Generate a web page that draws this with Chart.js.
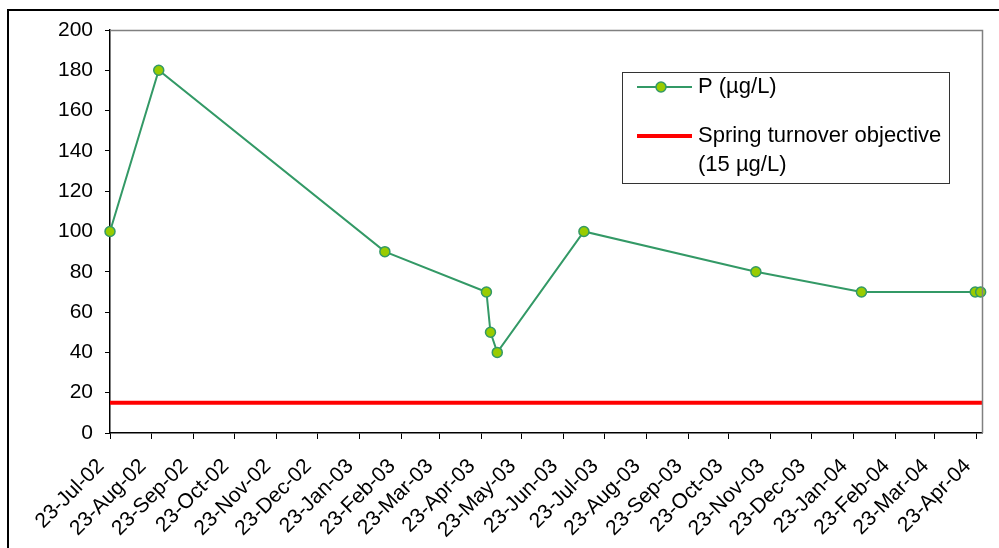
<!DOCTYPE html>
<html>
<head>
<meta charset="utf-8">
<script src="https://cdn.jsdelivr.net/npm/chart.js@4.4.0/dist/chart.umd.min.js"></script>
<style>
  html, body { margin: 0; padding: 0; background: #fff; }
  #wrap { width: 999px; height: 548px; position: relative; }
</style>
</head>
<body>
<div id="wrap"><canvas id="pChart" width="999" height="548"></canvas></div>
<script>
// Sampling dates and total phosphorus (µg/L)
const sampleDates = ['23-Jul-02', '28-Aug-02', '11-Feb-03', '27-Apr-03', '30-Apr-03', '05-May-03',
                     '08-Jul-03', '12-Nov-03', '29-Jan-04', '22-Apr-04', '26-Apr-04'];
const pValues = [100, 180, 90, 70, 50, 40, 100, 80, 70, 70, 70];

// Spring turnover objective
const objectiveValue = 15;

// Axis ticks
const tickLabels = ['23-Jul-02', '23-Aug-02', '23-Sep-02', '23-Oct-02', '23-Nov-02', '23-Dec-02',
                    '23-Jan-03', '23-Feb-03', '23-Mar-03', '23-Apr-03', '23-May-03', '23-Jun-03',
                    '23-Jul-03', '23-Aug-03', '23-Sep-03', '23-Oct-03', '23-Nov-03', '23-Dec-03',
                    '23-Jan-04', '23-Feb-04', '23-Mar-04', '23-Apr-04'];
const axisStart = '23-Jul-02';
const axisEnd = '27-Apr-04';
const yTicks = [0, 20, 40, 60, 80, 100, 120, 140, 160, 180, 200];

const MONTHS = ['Jan', 'Feb', 'Mar', 'Apr', 'May', 'Jun', 'Jul', 'Aug', 'Sep', 'Oct', 'Nov', 'Dec'];

// '23-Jul-02' -> day number
function toDay(s) {
    const [d, m, y] = s.split('-');
    return Date.UTC(2000 + Number(y), MONTHS.indexOf(m), Number(d)) / 86400000;
}

const FONT = "'Liberation Sans', Arial, sans-serif";
const lineGreen = '#339966';
const markerFill = '#99CC00';

const xMin = toDay(axisStart);
const xMax = toDay(axisEnd);
const tickDays = tickLabels.map(toDay);
const labelByDay = {};
tickLabels.forEach((t, i) => { labelByDay[tickDays[i]] = t; });

// Legend box, outer frame and plot frame
const framePlugin = {
    id: 'frame',
    beforeDraw(chart) {
        const ctx = chart.ctx;
        ctx.save();
        ctx.strokeStyle = '#000';
        ctx.lineWidth = 2;
        ctx.beginPath();
        ctx.moveTo(8, 560);
        ctx.lineTo(8, 10);
        ctx.lineTo(1010, 10);
        ctx.stroke();
        ctx.restore();
    },
    afterDraw(chart) {
        const ctx = chart.ctx;
        const a = chart.chartArea;
        ctx.save();
        // plot area top/right
        ctx.strokeStyle = '#808080';
        ctx.lineWidth = 1.5;
        ctx.beginPath();
        ctx.moveTo(a.left, a.top + 0.5);
        ctx.lineTo(a.right + 0.5, a.top + 0.5);
        ctx.lineTo(a.right + 0.5, a.bottom);
        ctx.stroke();

        // legend
        const bx = 622, by = 72, bw = 327, bh = 111;
        ctx.strokeStyle = '#333';
        ctx.lineWidth = 1;
        ctx.strokeRect(bx + 0.5, by + 0.5, bw, bh);

        const ds = chart.data.datasets;
        ctx.font = '22px ' + FONT;
        ctx.fillStyle = '#000';
        ctx.textBaseline = 'middle';

        // entry 1
        ctx.strokeStyle = ds[0].borderColor;
        ctx.lineWidth = 2;
        ctx.beginPath();
        ctx.moveTo(637, 87);
        ctx.lineTo(692, 87);
        ctx.stroke();
        ctx.beginPath();
        ctx.arc(661, 87, 5, 0, Math.PI * 2);
        ctx.fillStyle = ds[0].pointBackgroundColor;
        ctx.fill();
        ctx.lineWidth = 1.5;
        ctx.stroke();
        ctx.fillStyle = '#000';
        ctx.fillText(ds[0].label, 698, 87);

        // entry 2
        ctx.strokeStyle = ds[1].borderColor;
        ctx.lineWidth = 4;
        ctx.beginPath();
        ctx.moveTo(637, 136);
        ctx.lineTo(692, 136);
        ctx.stroke();
        const lines = ds[1].label.split('\n');
        lines.forEach((l, i) => ctx.fillText(l, 698, 136 + i * 29));
        ctx.restore();
    }
};

new Chart(document.getElementById('pChart'), {
    type: 'line',
    data: {
        datasets: [{
            label: 'P (µg/L)',
            data: sampleDates.map((d, i) => ({ x: toDay(d), y: pValues[i] })),
            borderColor: lineGreen,
            borderWidth: 2,
            pointBackgroundColor: markerFill,
            pointBorderColor: lineGreen,
            pointBorderWidth: 1.5,
            pointRadius: 5,
            tension: 0,
            clip: false
        }, {
            label: 'Spring turnover objective\n(15 µg/L)',
            data: [{ x: xMin, y: objectiveValue }, { x: xMax, y: objectiveValue }],
            borderColor: '#FF0000',
            borderWidth: 4,
            pointRadius: 0,
            tension: 0
        }]
    },
    options: {
        responsive: false,
        animation: false,
        events: [],
        layout: { padding: { top: 30, right: 17, left: 0, bottom: 0 } },
        plugins: {
            legend: { display: false },
            tooltip: { enabled: false }
        },
        scales: {
            x: {
                type: 'linear',
                min: xMin,
                max: xMax,
                afterBuildTicks(scale) {
                    scale.ticks = tickDays.map(v => ({ value: v }));
                },
                afterFit(scale) {
                    scale.height = 115;
                    scale.paddingLeft = 0;
                    scale.paddingRight = 0;
                },
                border: { display: true, color: '#000', width: 1.5 },
                grid: { display: true, drawOnChartArea: false, color: '#000', tickLength: 6, lineWidth: 1 },
                ticks: {
                    autoSkip: false,
                    minRotation: 45,
                    maxRotation: 45,
                    padding: 15,
                    labelOffset: -9,
                    color: '#000',
                    font: { family: FONT, size: 21 },
                    callback: v => labelByDay[v] || ''
                }
            },
            y: {
                min: 0,
                max: 200,
                afterBuildTicks(scale) {
                    scale.ticks = yTicks.map(v => ({ value: v }));
                },
                afterFit(scale) { scale.width = 110; },
                border: { display: true, color: '#000', width: 1.5 },
                grid: { display: true, drawOnChartArea: false, color: '#000', tickLength: 5, lineWidth: 1 },
                ticks: {
                    padding: 12,
                    color: '#000',
                    font: { family: FONT, size: 21 }
                }
            }
        }
    },
    plugins: [framePlugin]
});
</script>
</body>
</html>
